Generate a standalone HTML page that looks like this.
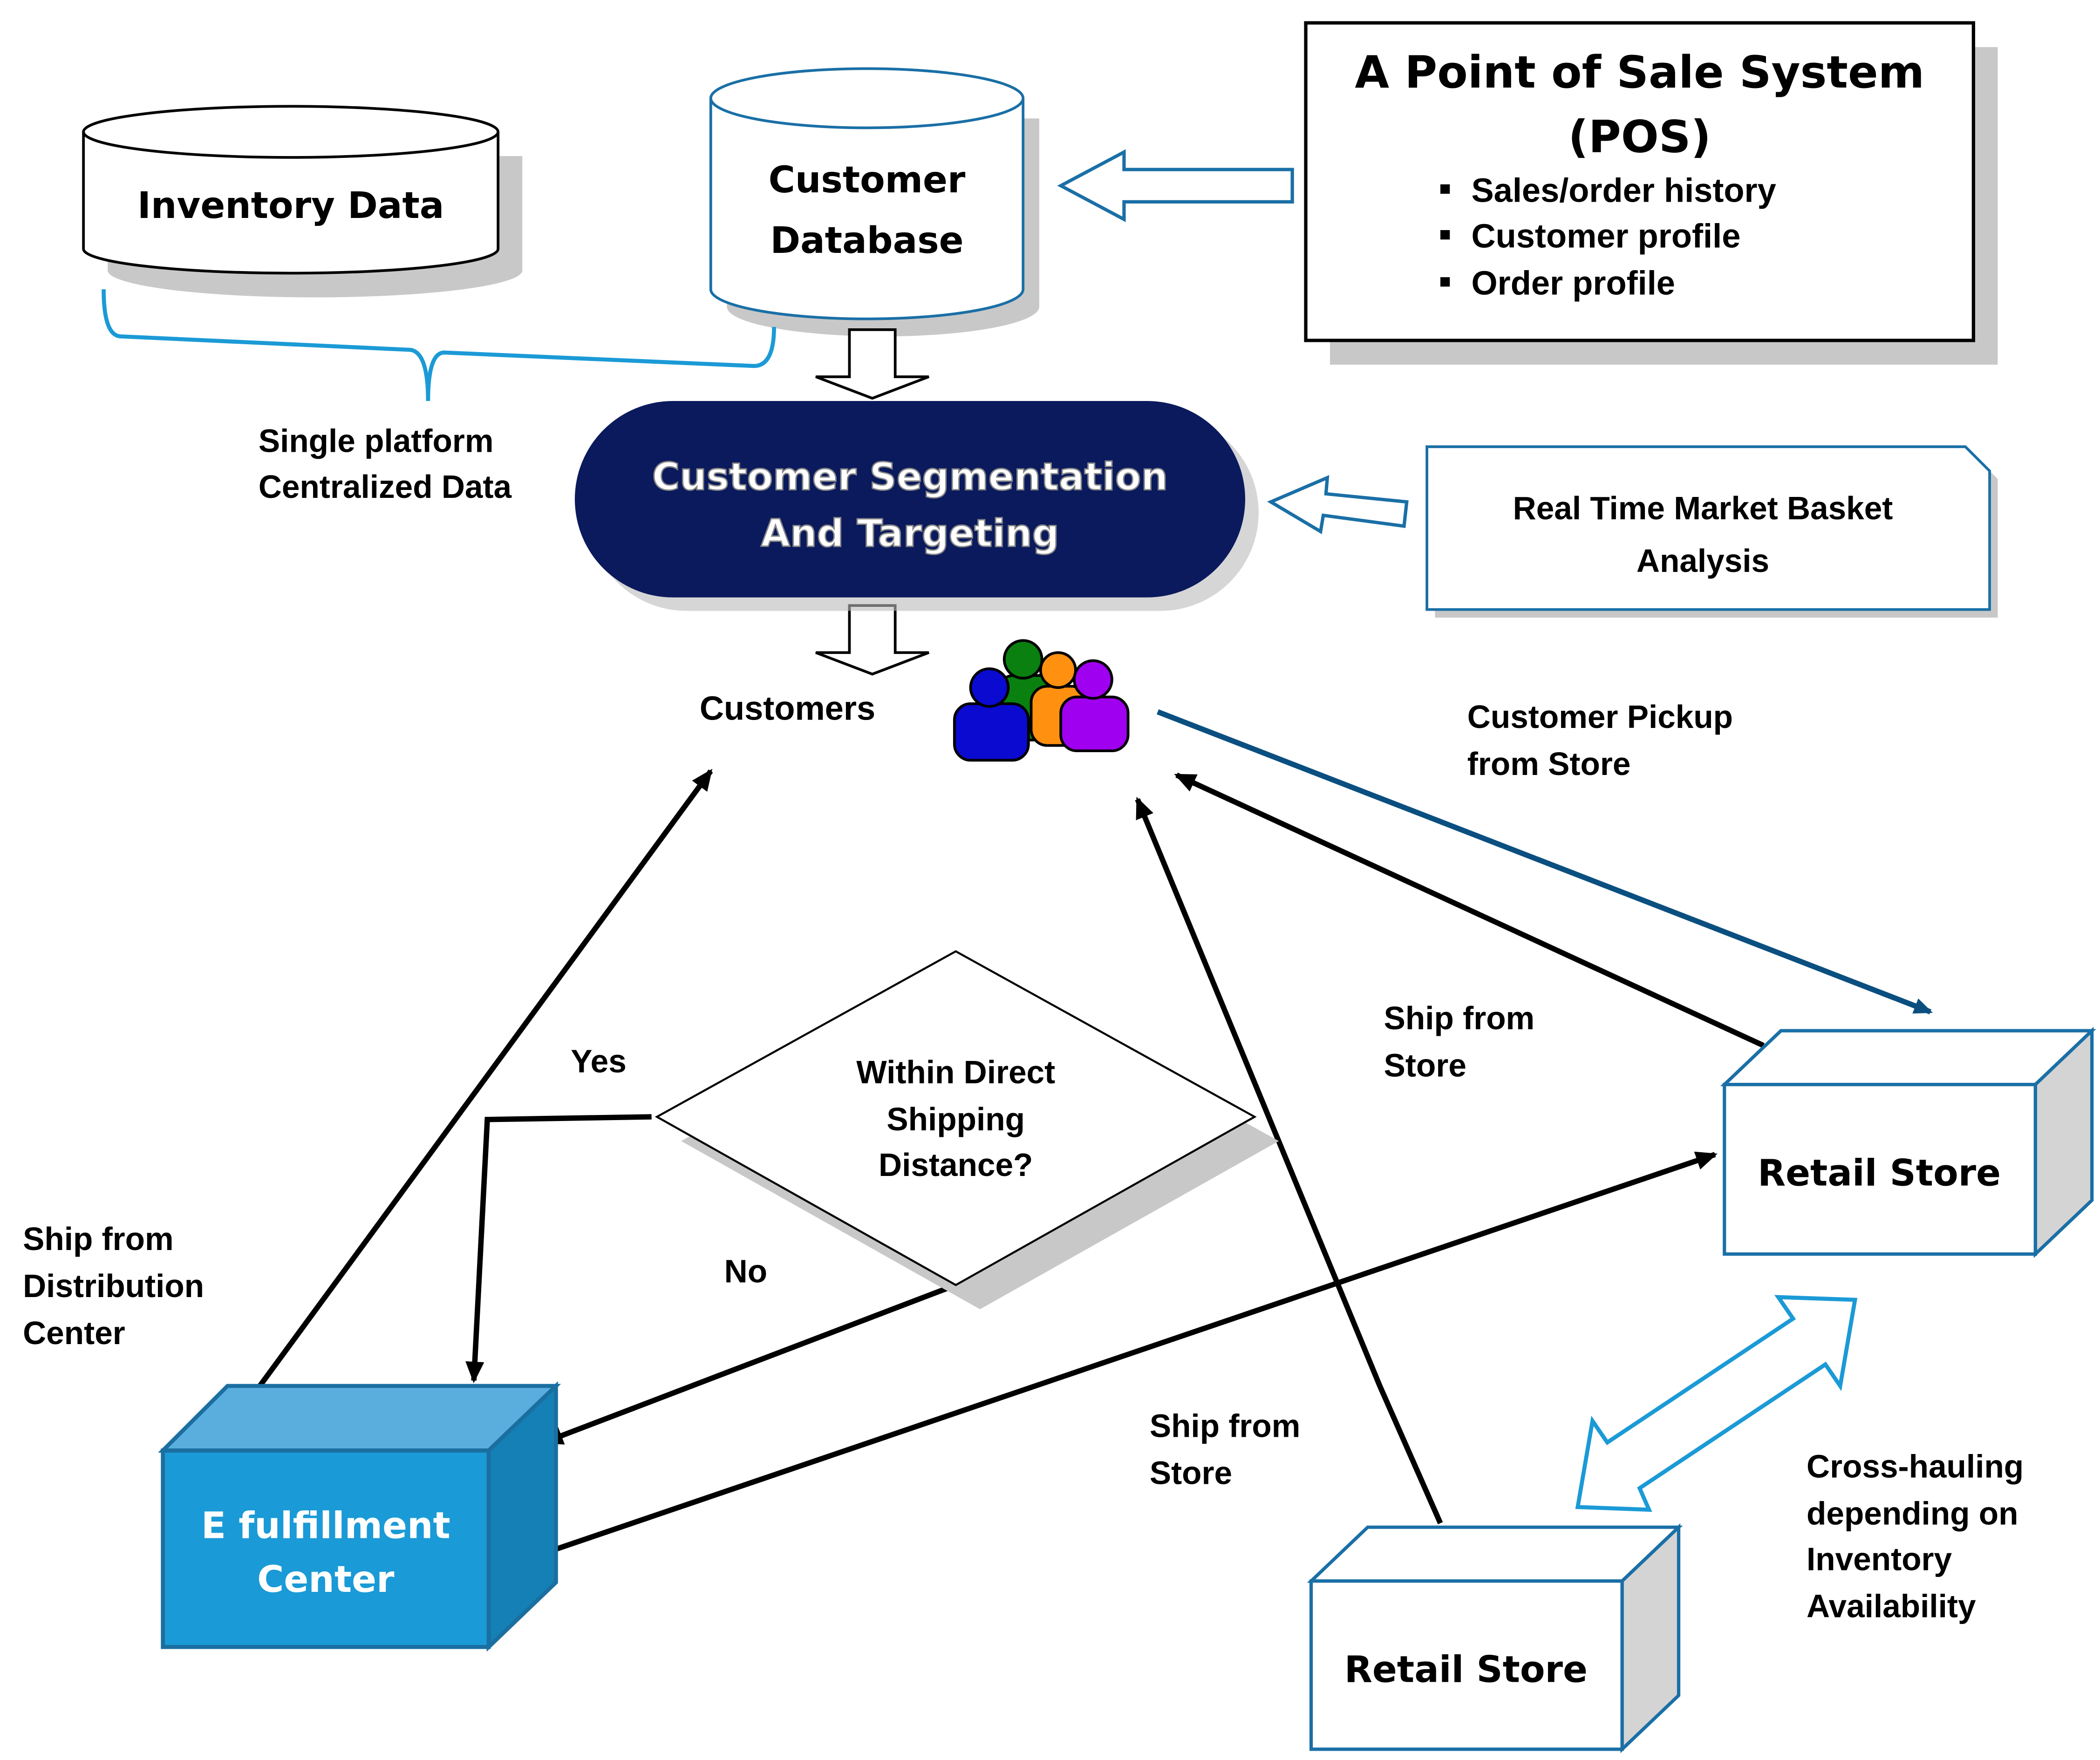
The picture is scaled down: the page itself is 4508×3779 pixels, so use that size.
<!DOCTYPE html>
<html><head><meta charset="utf-8"><style>
html,body{margin:0;padding:0;background:#fff;}
svg{display:block;}
text{font-family:"Liberation Sans",sans-serif;font-weight:bold;}
.v{font-family:"DejaVu Sans",sans-serif;font-weight:bold;}
</style></head><body>
<svg width="4508" height="3779" viewBox="0 0 1560 1308" preserveAspectRatio="none" xmlns="http://www.w3.org/2000/svg">
<defs>
<marker id="ah" markerWidth="10" markerHeight="10" refX="8" refY="5" orient="auto" markerUnits="userSpaceOnUse" viewBox="0 0 10 10"><path d="M0,0 L10,5 L0,10 z" fill="#000"/></marker>
<marker id="ab" markerWidth="14" markerHeight="12" refX="12" refY="6" orient="auto" markerUnits="userSpaceOnUse" viewBox="0 0 14 12"><path d="M0,0 L14,6 L0,12 z" fill="#0a4f80"/></marker>
<marker id="ak" markerWidth="16" markerHeight="14" refX="14" refY="7" orient="auto" markerUnits="userSpaceOnUse" viewBox="0 0 16 14"><path d="M0,0 L16,7 L0,14 z" fill="#000"/></marker>
</defs>

<!-- Inventory Data cylinder -->
<path d="M80,116 v85 a154,20 0 0 0 308,0 v-85 z" fill="#c8c8c8"/>
<path d="M62,98 v87 a154,18 0 0 0 308,0 v-87" fill="#fff" stroke="#000" stroke-width="2"/>
<ellipse cx="216" cy="98" rx="154" ry="19" fill="#fff" stroke="#000" stroke-width="2"/>
<text class="v" x="216" y="162" font-size="27" text-anchor="middle">Inventory Data</text>

<!-- Customer Database cylinder -->
<path d="M540,88 v140 a116,22 0 0 0 232,0 v-140 z" fill="#c8c8c8"/>
<path d="M528,73 v142 a116,22 0 0 0 232,0 v-142" fill="#fff" stroke="#1a6fa6" stroke-width="2"/>
<ellipse cx="644" cy="73" rx="116" ry="22" fill="#fff" stroke="#1a6fa6" stroke-width="2"/>
<text class="v" x="644" y="143" font-size="27" text-anchor="middle">Customer</text>
<text class="v" x="644" y="188" font-size="27" text-anchor="middle">Database</text>

<!-- brace -->
<path d="M77,215 Q77,250 90,250 L305,260 Q318,262 318,298 Q318,262 330,262 L560,272 Q575,272 575,243" fill="none" stroke="#1b9ad6" stroke-width="3"/>
<text x="192" y="336" font-size="24">Single platform</text>
<text x="192" y="370" font-size="24">Centralized Data</text>

<!-- POS box -->
<rect x="988" y="35" width="496" height="236" fill="#c8c8c8"/>
<rect x="970" y="17" width="496" height="236" fill="#fff" stroke="#000" stroke-width="2.5"/>
<text class="v" x="1218" y="65" font-size="33" text-anchor="middle">A Point of Sale System</text>
<text class="v" x="1218" y="113" font-size="33" text-anchor="middle">(POS)</text>
<g font-size="25"><rect x="1070" y="137" width="7" height="7"/><text x="1093" y="150">Sales/order history</text>
<rect x="1070" y="171" width="7" height="7"/><text x="1093" y="184">Customer profile</text>
<rect x="1070" y="206" width="7" height="7"/><text x="1093" y="219">Order profile</text></g>

<!-- left hollow arrow -->
<path d="M960,126 L835,126 L835,113 L788,138 L835,163 L835,150 L960,150 z" fill="#fff" stroke="#1a6fa6" stroke-width="2.5"/>

<!-- down hollow arrows -->
<path d="M631,245 h34 v35 h25 l-42,16 l-42,-16 h25 z" fill="#fff" stroke="#000" stroke-width="2"/>
<path d="M631,450 h34 v35 h25 l-42,16 l-42,-16 h25 z" fill="#fff" stroke="#000" stroke-width="2"/>

<!-- pill -->
<rect x="437" y="308" width="498" height="146" rx="73" fill="#bbb" opacity="0.6"/>
<rect x="427" y="298" width="498" height="146" rx="73" fill="#0a1a5c"/>
<text class="v" x="676" y="364" font-size="28" text-anchor="middle" fill="#fff" stroke="#888" stroke-width="1">Customer Segmentation</text>
<text class="v" x="676" y="406" font-size="28" text-anchor="middle" fill="#fff" stroke="#888" stroke-width="1">And Targeting</text>

<!-- Real time box -->
<path d="M1066,338 h400 l18,18 v103 h-418 z" fill="#c8c8c8"/>
<path d="M1060,332 h400 l18,18 v103 h-418 z" fill="#fff" stroke="#1a6fa6" stroke-width="2"/>
<text x="1265" y="386" font-size="24" text-anchor="middle">Real Time Market Basket</text>
<text x="1265" y="425" font-size="24" text-anchor="middle">Analysis</text>
<path d="M1045,373 L985,367 L986,355 L944,373 L981,395 L983,383 L1043,391 z" fill="#fff" stroke="#1a6fa6" stroke-width="2.5"/>

<!-- customers -->
<text x="585" y="535" font-size="25" text-anchor="middle">Customers</text>
<g stroke="#000" stroke-width="2">
<rect x="741" y="502" width="46" height="48" rx="12" fill="#0a8010"/><circle cx="760" cy="490" r="14" fill="#0a8010"/>
<rect x="766" y="510" width="42" height="44" rx="12" fill="#ff9010"/><circle cx="786" cy="498" r="13" fill="#ff9010"/>
<rect x="709" y="523" width="55" height="42" rx="12" fill="#0a0ad0"/><circle cx="735" cy="511" r="14" fill="#0a0ad0"/>
<rect x="788" y="518" width="50" height="40" rx="12" fill="#a000f0"/><circle cx="812" cy="505" r="14" fill="#a000f0"/>
</g>

<!-- blue line customer pickup -->
<line x1="860" y1="529" x2="1434" y2="752" stroke="#0a4f80" stroke-width="4" marker-end="url(#ab)"/>
<text x="1090" y="541" font-size="24">Customer Pickup</text>
<text x="1090" y="576" font-size="24">from Store</text>

<!-- black arrows -->
<g stroke="#000" stroke-width="4" fill="none">
<line x1="1310" y1="777" x2="874" y2="576" marker-end="url(#ak)"/>
<polyline points="1070,1132 1025,1030 845,594" marker-end="url(#ak)"/>
<line x1="193" y1="1030" x2="528" y2="573" marker-end="url(#ak)"/>
<polyline points="484,830 362,832 352,1026" marker-end="url(#ak)"/>
<line x1="710" y1="955" x2="404" y2="1072" marker-end="url(#ak)"/>
<line x1="408" y1="1153" x2="1274" y2="858" marker-end="url(#ak)"/>
</g>
<text x="1028" y="765" font-size="24">Ship from</text>
<text x="1028" y="800" font-size="24">Store</text>
<text x="424" y="797" font-size="24">Yes</text>
<text x="538" y="953" font-size="24">No</text>
<text x="17" y="929" font-size="24">Ship from</text>
<text x="17" y="964" font-size="24">Distribution</text>
<text x="17" y="999" font-size="24">Center</text>
<text x="854" y="1068" font-size="24">Ship from</text>
<text x="854" y="1103" font-size="24">Store</text>

<!-- diamond -->
<path d="M728,725 L950,848 L728,973 L506,848 z" fill="#c8c8c8"/>
<path d="M710,707 L932,830 L710,955 L488,830 z" fill="#fff" stroke="#000" stroke-width="1.5"/>
<text x="710" y="805" font-size="24" text-anchor="middle">Within Direct</text>
<text x="710" y="840" font-size="24" text-anchor="middle">Shipping</text>
<text x="710" y="874" font-size="24" text-anchor="middle">Distance?</text>

<!-- E fulfillment -->
<g stroke="#1a6fa0" stroke-width="3">
<path d="M121,1078 L169,1030 L413,1030 L363,1078 z" fill="#5aaedd"/>
<path d="M363,1078 L413,1030 L413,1176 L363,1224 z" fill="#1580b5"/>
<rect x="121" y="1078" width="242" height="146" fill="#1a9ad6"/>
</g>
<text class="v" x="242" y="1143" font-size="27" text-anchor="middle" fill="#fff">E fulfillment</text>
<text class="v" x="242" y="1183" font-size="27" text-anchor="middle" fill="#fff">Center</text>

<!-- Retail store 1 -->
<g stroke="#1a6fa6" stroke-width="2.5">
<path d="M1281,806 L1323,766 L1554,766 L1512,806 z" fill="#fff"/>
<path d="M1512,806 L1554,766 L1554,892 L1512,932 z" fill="#d4d4d4"/>
<rect x="1281" y="806" width="231" height="126" fill="#fff"/>
</g>
<text class="v" x="1396" y="881" font-size="27" text-anchor="middle">Retail Store</text>

<!-- Retail store 2 -->
<g stroke="#1a6fa6" stroke-width="2.5">
<path d="M974,1175 L1016,1135 L1247,1135 L1205,1175 z" fill="#fff"/>
<path d="M1205,1175 L1247,1135 L1247,1260 L1205,1300 z" fill="#d4d4d4"/>
<rect x="974" y="1175" width="231" height="125" fill="#fff"/>
</g>
<text class="v" x="1089" y="1250" font-size="27" text-anchor="middle">Retail Store</text>

<!-- double arrow -->
<path d="M1378,966 L1367,1030 L1356,1014 L1218,1106 L1225,1122 L1172,1120 L1183,1056 L1194,1072 L1332,980 L1321,964 z" fill="#fff" stroke="#1b9ad6" stroke-width="3"/>
<text x="1342" y="1098" font-size="24">Cross-hauling</text>
<text x="1342" y="1133" font-size="24">depending on</text>
<text x="1342" y="1167" font-size="24">Inventory</text>
<text x="1342" y="1202" font-size="24">Availability</text>
</svg>
</body></html>
